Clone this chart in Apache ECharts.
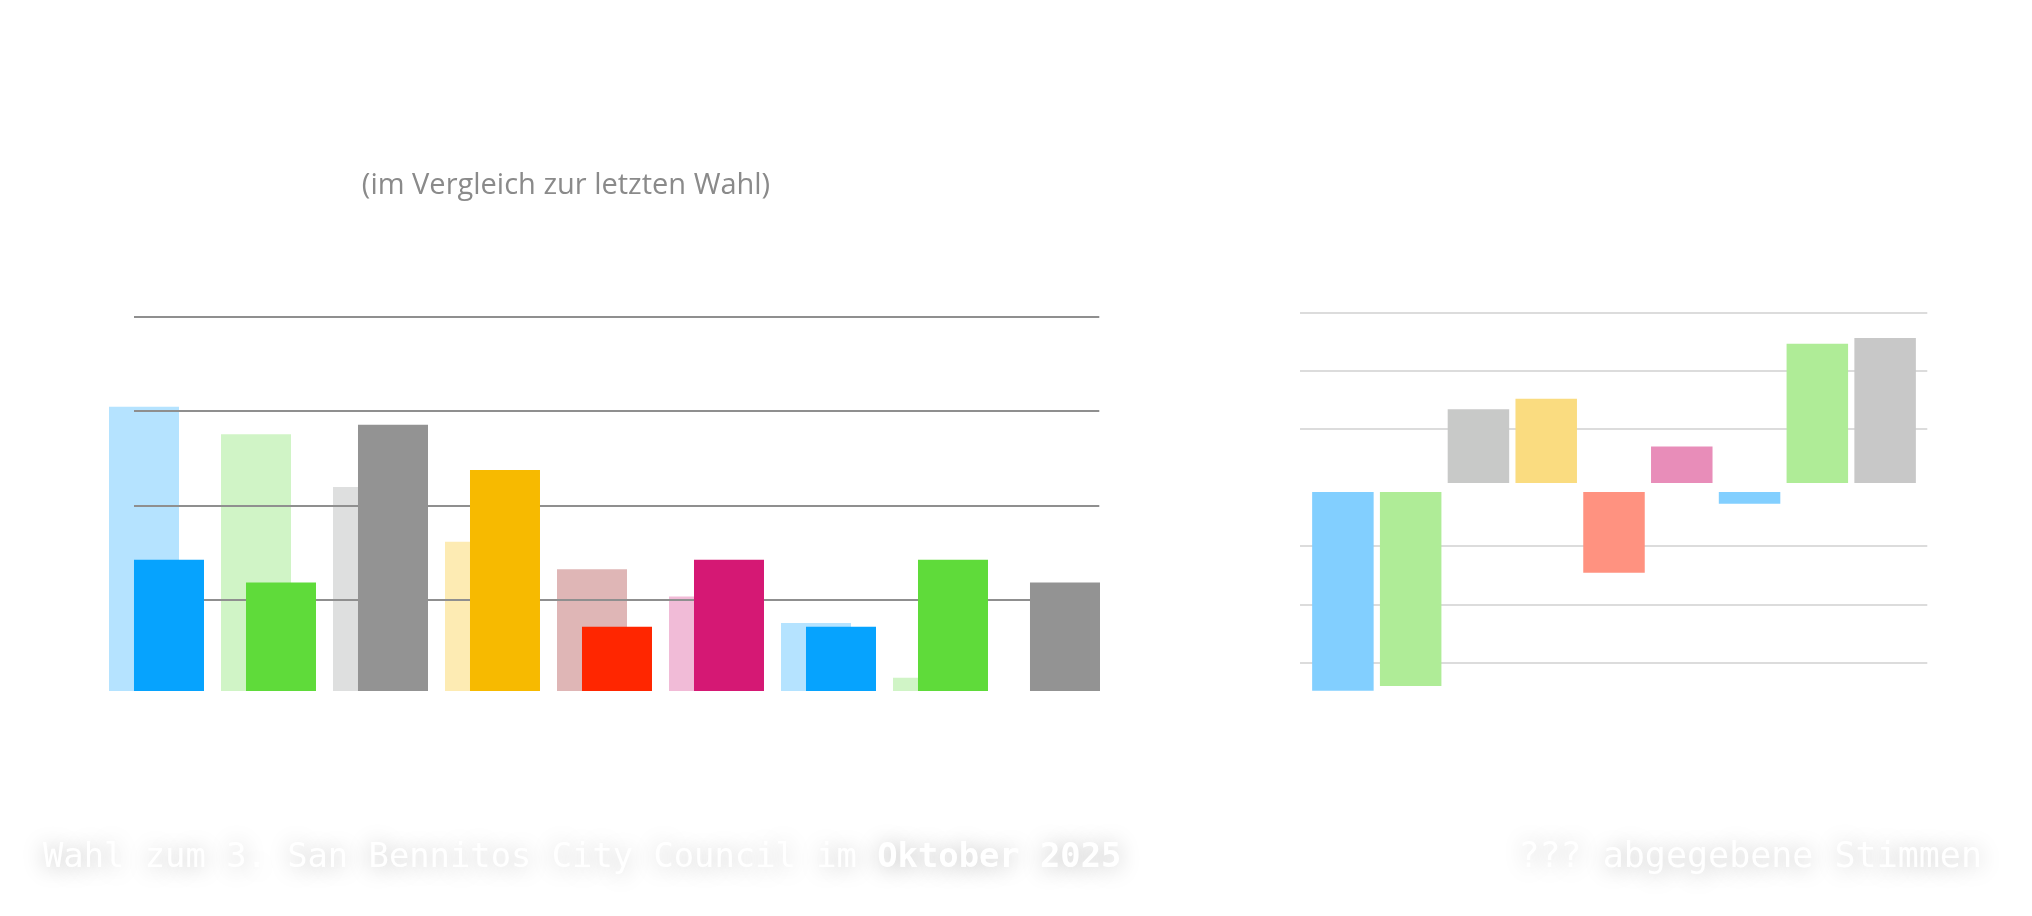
<!DOCTYPE html>
<html>
<head>
<meta charset="utf-8">
<script src="https://cdn.jsdelivr.net/npm/echarts@6/dist/echarts.min.js"></script>
<style>
html,body{margin:0;padding:0;background:#fff;}
#c{width:2032px;height:916px;}
</style>
</head>
<body>
<div id="c"></div>
<script>
// Categories (parties, unnamed in the picture)
const categories = ['P1','P2','P3','P4','P5','P6','P7','P8','P9'];

// Left chart: vote share (%) — current election and previous election
const currentShare  = [13.9, 11.5, 28.2, 23.4, 6.8, 13.9, 6.8, 13.9, 11.5];
const previousShare = [30.1, 27.2, 21.6, 15.8, 12.9, 10.0, 7.2, 1.4, null];
const currentColors  = ['#06a3fe','#5fdb3a','#939393','#f7ba00','#ff2600','#d51874','#06a3fe','#5fdb3a','#939393'];
const previousColors = ['#b5e3ff','#d0f4c6','#dedfdf','#fdebb3','#dfb6b6','#f1bbd7','#b5e3ff','#d0f4c6','#dedfdf'];

// Right chart: change vs. previous election (points)
const changeValues = [-17.4, -17.0, 6.7, 7.6, -7.3, 3.5, -1.4, 12.3, 12.8];
const changeColors = ['#82cfff','#afec97','#c8c9c8','#fadc80','#ff9280','#e88db9','#82cfff','#afec97','#c8c8c8'];

// Axis ticks
const leftTicks  = { min: 10, max: 40, interval: 10 };
const rightTicks = { min: -15, max: 15, interval: 5 };

const subtitle  = '(im Vergleich zur letzten Wahl)';
const footLeftA = 'Wahl zum 3. San Bennitos City Council im ';
const footLeftB = 'Oktober 2025';
const footRight = '??? abgegebene Stimmen';

const chart = echarts.init(document.getElementById('c'));

const hiddenCat = (gi) => ({
  type: 'category', gridIndex: gi, data: categories,
  axisLine: {show:false}, axisTick: {show:false}, axisLabel: {show:false}, splitLine: {show:false}
});

const shadowStyle = {
  color: '#ffffff',
  fontFamily: '"DejaVu Sans Mono", monospace',
  textShadowColor: 'rgba(0,0,0,0.28)',
  textShadowBlur: 22,
  textShadowOffsetX: 0,
  textShadowOffsetY: 2
};

chart.setOption({
  backgroundColor: '#ffffff',
  animation: false,
  title: [
    {
      text: subtitle,
      left: 561, top: 163, textAlign: 'center',
      textStyle: { color: '#8a8a8a', fontFamily: '"Open Sans", sans-serif', fontWeight: 'normal', fontSize: 29, lineHeight: 36 }
    },
    {
      text: '{a|' + footLeftA + '}{b|' + footLeftB + '}',
      left: 38, top: 833,
      textStyle: {
        rich: {
          a: Object.assign({ fontSize: 33.8, fontWeight: 'normal', lineHeight: 40 }, shadowStyle),
          b: Object.assign({ fontSize: 33.8, fontWeight: 'bold', lineHeight: 40 }, shadowStyle)
        }
      }
    },
    {
      text: footRight,
      right: 45, top: 833,
      textStyle: Object.assign({ fontSize: 35, fontWeight: 'normal', lineHeight: 40 }, shadowStyle)
    }
  ],
  grid: [
    // 0: left bars
    { left: 100.5, width: 1008, top: 313.4, bottom: 225 },
    // 1: left gridlines
    { left: 134, width: 965.3, top: 316.7, bottom: 316 },
    // 2: right bars (range -20..20, same scale as gridlines)
    { left: 1309, width: 610, top: 253.9, bottom: 194.9 },
    // 3: right gridlines
    { left: 1300, width: 627.3, top: 312.3, bottom: 253.3 }
  ],
  xAxis: [hiddenCat(0), hiddenCat(1), hiddenCat(2), hiddenCat(3)],
  yAxis: [
    { type: 'value', gridIndex: 0, min: 0, max: 40, show: false, splitLine: {show:false} },
    { type: 'value', gridIndex: 1, min: leftTicks.min, max: leftTicks.max, interval: leftTicks.interval, z: 1.5,
      axisLine:{show:false}, axisTick:{show:false}, axisLabel:{show:false},
      splitLine: { show: true, lineStyle: { color: '#8f8f8f', width: 2 } } },
    { type: 'value', gridIndex: 2, min: -20, max: 20, interval: 5, show: false, splitLine:{show:false} },
    { type: 'value', gridIndex: 3, min: rightTicks.min, max: rightTicks.max, interval: rightTicks.interval, z: 0,
      axisLine:{show:false}, axisTick:{show:false}, axisLabel:{show:false},
      splitLine: { show: true, lineStyle: { color: ['#dcdcdc','#dcdcdc','#dcdcdc','#ffffff','#dcdcdc','#dcdcdc','#dcdcdc'], width: 2 } } }
  ],
  series: [
    {
      type: 'bar', xAxisIndex: 0, yAxisIndex: 0, z: 1,
      barWidth: 70, barGap: '-64.3%',
      data: previousShare.map((v, i) => ({ value: v, itemStyle: { color: previousColors[i] } })),
      silent: true
    },
    {
      type: 'bar', xAxisIndex: 0, yAxisIndex: 0, z: 3,
      barWidth: 70, barGap: '-64.3%',
      data: currentShare.map((v, i) => ({ value: v, itemStyle: { color: currentColors[i] } })),
      silent: true
    },
    {
      type: 'bar', xAxisIndex: 2, yAxisIndex: 2, z: 3,
      barWidth: 61.5,
      data: changeValues.map((v, i) => ({ value: v, itemStyle: { color: changeColors[i] } })),
      silent: true,
      markLine: {
        silent: true, symbol: 'none', label: { show: false },
        lineStyle: { color: '#ffffff', width: 9, type: 'solid' },
        data: [{ yAxis: 0 }]
      }
    }
  ]
});
</script>
</body>
</html>
